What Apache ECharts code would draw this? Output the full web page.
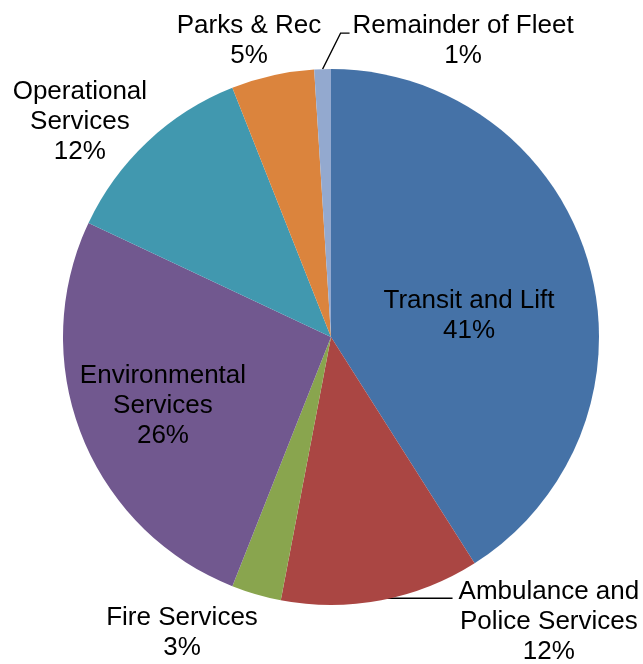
<!DOCTYPE html>
<html>
<head>
<meta charset="utf-8">
<script src="https://cdn.jsdelivr.net/npm/echarts@6/dist/echarts.min.js"></script>
<style>
  html, body { margin: 0; padding: 0; background: #ffffff; }
  #chart { width: 643px; height: 664px; }
</style>
</head>
<body>
<div id="chart"></div>
<script>
// Fleet share by department (percent of total)
const categories = [
  'Transit and Lift',
  'Ambulance and\nPolice Services',
  'Fire Services',
  'Environmental\nServices',
  'Operational\nServices',
  'Parks & Rec',
  'Remainder of Fleet'
];
const shares = [41, 12, 3, 26, 12, 5, 1];
const sliceColors = ['#4572A7', '#AA4643', '#89A54E', '#71588F', '#4198AF', '#DB843D', '#93A9CF'];

// Pie geometry
const CX = 331, CY = 337, R = 268;
// Label anchors as offsets from the pie centre, in radius units
const labelOffsets = [
  [0.515, -0.079],
  [0.813, 1.062],
  [-0.556, 1.104],
  [-0.627, 0.257],
  [-0.937, -0.802],
  [-0.306, -1.104],
  [0.493, -1.104]
];
const withLeader = [false, true, false, false, false, false, true];
const insideLabel = [true, false, false, true, false, false, false];

// Mid-angle of each slice, clockwise from 12 o'clock (radians)
const total = shares.reduce((a, b) => a + b, 0);
const midAngles = [];
let acc = 0;
shares.forEach(v => {
  midAngles.push(((acc + v / 2) / total) * Math.PI * 2);
  acc += v;
});

const pieData = categories.map((name, i) => ({
  name: name,
  value: shares[i],
  itemStyle: { color: sliceColors[i] },
  label: { position: insideLabel[i] ? 'inside' : 'outside' },
  labelLine: { show: withLeader[i] }
}));

const chart = echarts.init(document.getElementById('chart'), null, { renderer: 'canvas' });
chart.setOption({
  animation: false,
  backgroundColor: '#ffffff',
  series: [{
    type: 'pie',
    center: [CX, CY],
    radius: R,
    startAngle: 90,
    clockwise: true,
    avoidLabelOverlap: false,
    silent: true,
    itemStyle: { borderWidth: 0 },
    label: {
      show: true,
      color: '#000000',
      fontFamily: '"Liberation Sans", Arial, sans-serif',
      fontSize: 26,
      lineHeight: 30,
      align: 'center',
      formatter: p => p.name + '\n' + p.value + '%'
    },
    labelLine: {
      show: false,
      lineStyle: { color: '#000000', width: 1.3 }
    },
    labelLayout: function (p) {
      const i = p.dataIndex;
      const off = labelOffsets[i];
      const x = CX + off[0] * R;
      const y = CY + off[1] * R;
      const out = { x: x, y: y, align: 'center', verticalAlign: 'middle' };
      if (withLeader[i]) {
        const a = midAngles[i];
        const ax = CX + R * Math.sin(a);
        const ay = CY - R * Math.cos(a);
        const left = x - p.labelRect.width / 2;
        if (off[1] > 0) {
          out.labelLinePoints = [[ax, ay - 2], [left - 6, ay - 2]];
        } else {
          const top = y - p.labelRect.height / 2;
          const ey = top + 22;
          out.labelLinePoints = [[ax, ay], [left - 12, ey], [left - 3, ey]];
        }
      }
      return out;
    },
    data: pieData
  }]
});
</script>
</body>
</html>
